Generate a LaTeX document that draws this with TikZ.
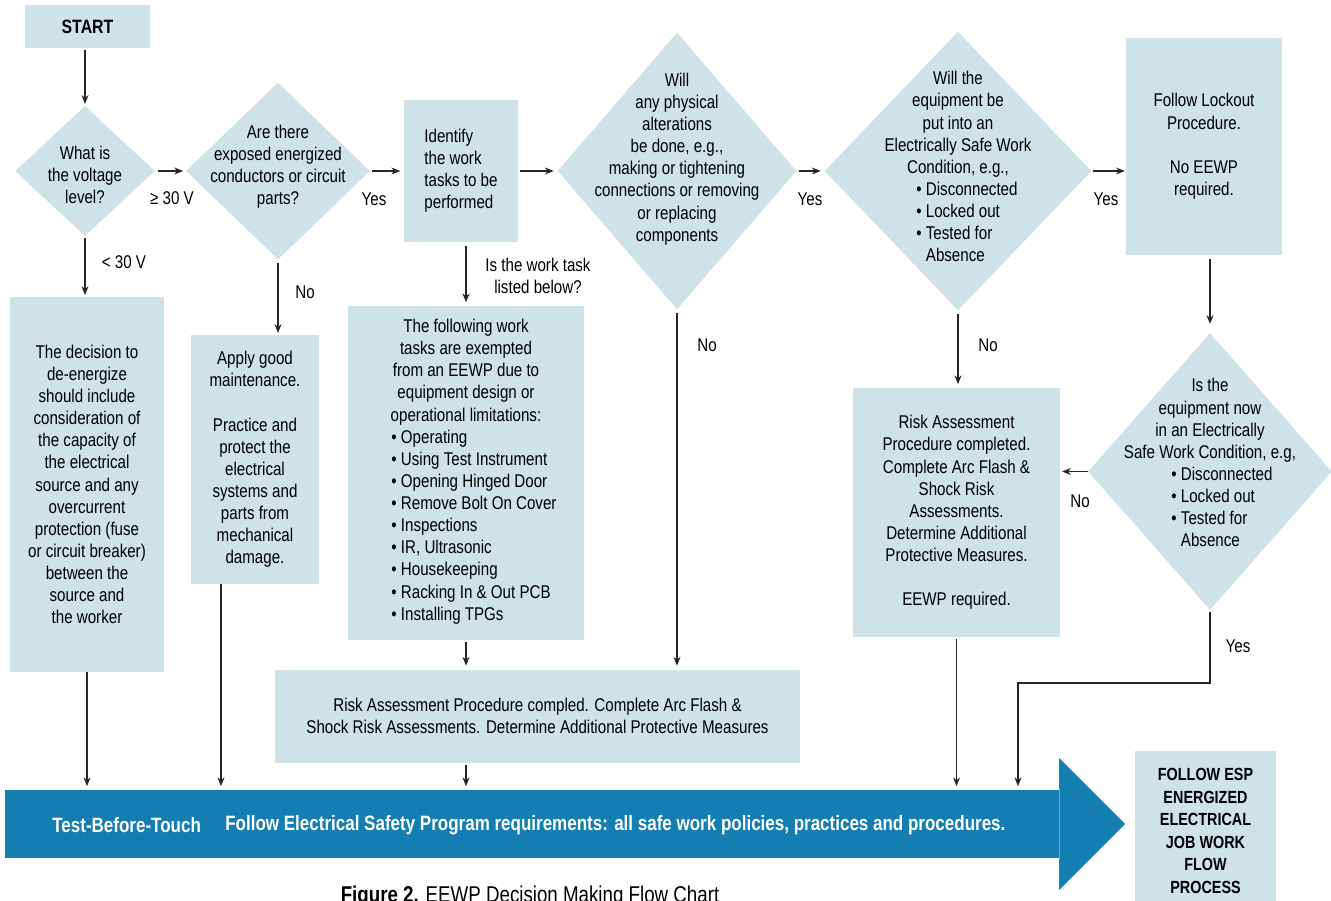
\documentclass[tikz,border=0pt]{standalone}
\usepackage{fontspec}
\setmainfont[FakeStretch=0.82]{Liberation Sans}
\usetikzlibrary{arrows.meta,positioning,shapes.geometric}
\definecolor{paleblue}{RGB}{206,226,232}
\definecolor{barblue}{RGB}{20,125,177}
\newcommand{\txt}{\fontsize{10.5}{12.6}\selectfont}

\begin{document}
\begin{tikzpicture}[x=0.02cm,y=-0.02cm,
  proc/.style={fill=paleblue,inner sep=0pt,font=\txt,align=center},
  query/.style={diamond,fill=paleblue,inner sep=0pt},
  qtext/.style={font=\txt,align=center},
  lbl/.style={font=\txt},
  bartxt/.style={font=\fontsize{11.8}{14}\selectfont\bfseries,text=white,inner sep=0pt},
  arr/.style={-{Stealth[length=5pt,width=4pt]},line width=0.6pt,black!85}]
\useasboundingbox (0,0) rectangle (1331,900);
\clip (0,0) rectangle (1331,900);
% top row
\node[proc,font=\fontsize{11}{13}\selectfont\bfseries,minimum width=2.5cm,minimum height=0.86cm] (start) at (87.5,26.5) {START};
\node[query,minimum width=2.8cm,minimum height=2.6cm] (d1) at (85,171) {};
\node[qtext] (d1t) at (85,175) {What is\\the voltage\\level?};
\node[query,minimum width=3.68cm,minimum height=3.54cm] (d2) at (278,171) {};
\node[qtext] (d2t) at (278,167) {Are there\\exposed energized\\conductors or circuit\\parts?};
\node[proc,align=left,minimum width=2.28cm,minimum height=2.84cm] (ident) at (461,171) {Identify\\the work\\tasks to be\\performed};
\node[query,minimum width=4.78cm,minimum height=5.54cm] (d3) at (677,171) {};
\node[qtext] (d3t) at (677,159) {Will\\any physical\\alterations\\be done, e.g.,\\making or tightening\\connections or removing\\or replacing\\components};
\node[query,minimum width=5.34cm,minimum height=5.58cm] (d4) at (958,171) {};
\node[qtext] (d4t) at (958,170) {Will the\\equipment be\\put into an\\Electrically Safe Work\\Condition, e.g.,\\
  \hspace{0.36cm}\begin{tabular}[t]{@{}l@{}}\textbullet\ Disconnected\\\textbullet\ Locked out\\\textbullet\ Tested for\\\phantom{\textbullet\ }Absence\end{tabular}};
\node[proc,minimum width=3.12cm,minimum height=4.34cm] (lock) at (1204,146.5) {Follow Lockout\\Procedure.\\[12.6pt]No EEWP\\required.};
% middle row
\node[proc,minimum width=3.08cm,minimum height=7.5cm] (dec) at (87,484.5) {The decision to\\de-energize\\should include\\consideration of\\the capacity of\\the electrical\\source and any\\overcurrent\\protection (fuse\\or circuit breaker)\\between the\\source and\\the worker};
\node[proc,minimum width=2.56cm,minimum height=4.98cm] (maint) at (255,459.5) {Apply good\\maintenance.\\[12.6pt]Practice and\\protect the\\electrical\\systems and\\parts from\\mechanical\\damage.};
\node[proc,minimum width=4.72cm,minimum height=6.68cm] (exempt) at (466,473) {The following work\\tasks are exempted\\from an EEWP due to\\equipment design or\\operational limitations:\\
  \hspace{0.32cm}\begin{tabular}[t]{@{}l@{}}\textbullet\ Operating\\\textbullet\ Using Test Instrument\\\textbullet\ Opening Hinged Door\\\textbullet\ Remove Bolt On Cover\\\textbullet\ Inspections\\\textbullet\ IR, Ultrasonic\\\textbullet\ Housekeeping\\\textbullet\ Racking In \& Out PCB\\\textbullet\ Installing TPGs\end{tabular}};
\node[proc,minimum width=4.14cm,minimum height=4.98cm] (risk2) at (956.5,512.5) {Risk Assessment\\Procedure completed.\\Complete Arc Flash \&\\Shock Risk\\Assessments.\\Determine Additional\\Protective Measures.\\[12.6pt]EEWP required.};
\node[query,minimum width=4.88cm,minimum height=5.54cm] (d5) at (1210,471.5) {};
\node[qtext] (d5t) at (1210,466) {Is the\\equipment now\\in an Electrically\\Safe Work Condition, e.g,\\
  \hspace{0.48cm}\begin{tabular}[t]{@{}l@{}}\textbullet\ Disconnected\\\textbullet\ Locked out\\\textbullet\ Tested for\\\phantom{\textbullet\ }Absence\end{tabular}};
\node[proc,minimum width=10.5cm,minimum height=1.86cm] (risk1) at (537.5,716) {Risk Assessment Procedure compled. Complete Arc Flash \&\\Shock Risk Assessments. Determine Additional Protective Measures};
% bottom bar
\node[fill=barblue,inner sep=0pt,minimum width=21.08cm,minimum height=1.36cm] (bar) at (532,824) {};
\fill[barblue] (bar.north east) -- (1059,758) -- (1125,824) -- (1059,890) -- (bar.south east) -- cycle;
\node[bartxt,anchor=west] (tbt) at (52,825) {Test-Before-Touch};
\node[bartxt,anchor=west] (esprq) at (225,825) {Follow Electrical Safety Program requirements: all safe work policies, practices and procedures.};
\node[proc,font=\fontsize{10}{12.8}\selectfont\bfseries,minimum width=2.82cm,minimum height=3.2cm] (esp) at (1205.5,831) {FOLLOW ESP\\ENERGIZED\\ELECTRICAL\\JOB WORK\\FLOW\\PROCESS};
\node[font=\fontsize{13}{15}\selectfont,anchor=base,inner sep=0pt] (cap) at (530,902) {\textbf{Figure 2.} EEWP Decision Making Flow Chart};
% labels
\node[lbl] (l30up) at (172,198) {≥ 30 V};
\node[lbl] (l30dn) at (124,262) {< 30 V};
\node[lbl] (yes1) at (374,199) {Yes};
\node[lbl] (yes2) at (810,199) {Yes};
\node[lbl] (yes3) at (1106,199) {Yes};
\node[lbl] (no1) at (305,292) {No};
\node[lbl] (no2) at (707,345) {No};
\node[lbl] (no3) at (988,345) {No};
\node[lbl] (no4) at (1080,501) {No};
\node[lbl] (yes4) at (1238,646) {Yes};
\node[lbl,align=center] (listq) at (538,276) {Is the work task\\listed below?};
% connectors
\draw[arr,shorten <=1pt,shorten >=1pt] (d1.north |- start.south) -- (d1.north);
\draw[arr,shorten <=1.5pt,shorten >=1.5pt] (d1) -- (d2);
\draw[arr,shorten <=1pt,shorten >=2pt] (d2) -- (ident);
\draw[arr,shorten <=1pt,shorten >=2pt] (ident) -- (d3);
\draw[arr,shorten <=1pt,shorten >=2pt] (d3) -- (d4);
\draw[arr,shorten <=0.5pt,shorten >=0.5pt] (d4.east) -- (d4.east -| lock.west);
\draw[arr,shorten <=1pt,shorten >=1pt] (d1.south) -- (d1.south |- dec.north);
\draw[arr,shorten <=2pt,shorten >=1pt] (d2.south) -- (d2.south |- maint.north);
\draw[arr,shorten <=2pt,shorten >=2pt] (exempt.north |- ident.south) -- (exempt.north);
\draw[arr,shorten <=2pt,shorten >=2pt] (d3.south) -- (d3.south |- risk1.north);
\draw[arr,shorten <=2pt,shorten >=2pt] (d4.south) -- (d4.south |- risk2.north);
\draw[arr,shorten <=2pt,shorten >=5pt] (d5.north |- lock.south) -- (d5.north);
\draw[arr,shorten >=1pt] (d5.west) -- (d5.west -| risk2.east);
\coordinate (yesjog) at (1018,683);
\draw[arr,shorten <=1pt,shorten >=2pt] (d5.south) |- (yesjog) -- (yesjog |- bar.north);
\draw[arr,shorten >=2pt] (dec.south) -- (dec.south |- bar.north);
\draw[arr,shorten >=2pt] ([xshift=-0.68cm]maint.south) -- ([xshift=-0.68cm]maint.south |- bar.north);
\draw[arr,shorten <=1pt,shorten >=2pt] (exempt.south) -- (exempt.south |- risk1.north);
\draw[arr,shorten <=1pt,shorten >=2pt] (exempt.south |- risk1.south) -- (exempt.south |- bar.north);
\draw[arr,shorten <=1pt,shorten >=2pt] (risk2.south) -- (risk2.south |- bar.north);
\end{tikzpicture}
\end{document}
